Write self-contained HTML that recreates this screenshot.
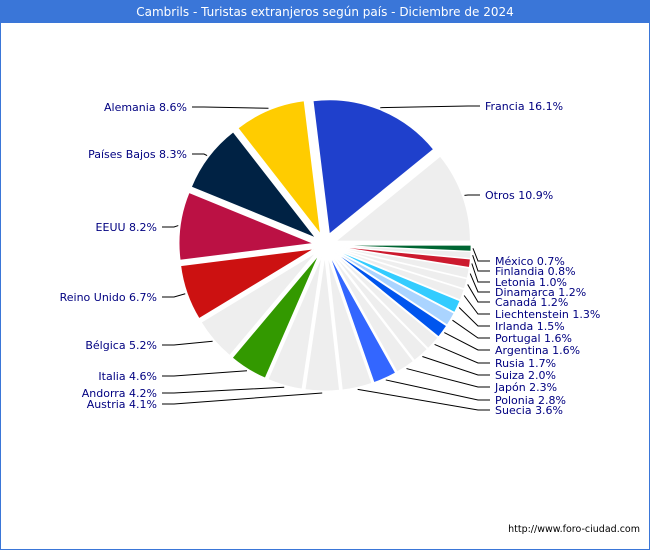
<!DOCTYPE html>
<html><head><meta charset="utf-8"><style>
body{margin:0;width:650px;height:550px;overflow:hidden;background:#fff;font-family:"DejaVu Sans","Liberation Sans",sans-serif}
</style></head><body>
<svg width="650" height="550" xmlns="http://www.w3.org/2000/svg" font-family="DejaVu Sans, Liberation Sans, sans-serif">
<rect x="0" y="0" width="650" height="550" fill="#fff"/>
<rect x="0.5" y="0.5" width="649" height="549" fill="none" stroke="#3a76d8"/>
<rect x="0" y="0" width="650" height="23" fill="#3a76d8"/>
<text x="325" y="16" text-anchor="middle" fill="#fff" font-size="12">Cambrils - Turistas extranjeros según país - Diciembre de 2024</text>
<g id="pie"></g>
<text x="640" y="532" text-anchor="end" font-size="9.5" fill="#000">http://www.foro-ciudad.com</text>
</svg>
<script>
const categories=["Francia","Otros","México","Finlandia","Letonia","Dinamarca","Canadá","Liechtenstein","Irlanda","Portugal","Argentina","Rusia","Suiza","Japón","Polonia","Suecia","Austria","Andorra","Italia","Bélgica","Reino Unido","EEUU","Países Bajos","Alemania"];
const values=[16.1,10.9,0.7,0.8,1.0,1.2,1.2,1.3,1.5,1.6,1.6,1.7,2.0,2.3,2.8,3.6,4.1,4.2,4.6,5.2,6.7,8.2,8.3,8.6];
const colors=["#1f40cc","#eeeeee","#006633","#eeeeee","#cc1a2e","#eeeeee","#eeeeee","#eeeeee","#33ccff","#aad4ff","#0055ee","#eeeeee","#eeeeee","#eeeeee","#3366ff","#eeeeee","#eeeeee","#eeeeee","#339900","#eeeeee","#cc1111","#bb1144","#002244","#ffcc00"];
const labelPos=[[485,106],[485,195],[495,261],[495,271],[495,282],[495,292],[495,302],[495,314],[495,326],[495,338],[495,350],[495,363],[495,375],[495,387],[495,400],[495,410],[157,404],[157,393],[157,376],[157,345],[157,297],[157,227],[187,154],[187,107]];
const cx=325,cy=245,R=134,EX=12,start=-97;
const g=document.getElementById('pie');
const NS="http://www.w3.org/2000/svg";
const total=values.reduce((a,b)=>a+b,0);
let acc=0;
values.forEach((v,i)=>{
  const a0=(start+acc/total*360)*Math.PI/180;
  acc+=v;
  const a1=(start+acc/total*360)*Math.PI/180;
  const am=(a0+a1)/2;
  const ox=cx+EX*Math.cos(am),oy=cy+EX*Math.sin(am);
  const large=(a1-a0)>Math.PI?1:0;
  const p=document.createElementNS(NS,'path');
  p.setAttribute('d',`M${ox},${oy}L${ox+R*Math.cos(a0)},${oy+R*Math.sin(a0)}A${R},${R} 0 ${large} 1 ${ox+R*Math.cos(a1)},${oy+R*Math.sin(a1)}Z`);
  p.setAttribute('fill',colors[i]);
  p.setAttribute('stroke','#fff');p.setAttribute('stroke-width','0.8');
  
  
  g.appendChild(p);
  const [lx,ly]=labelPos[i];
  const right=lx>cx;
  const sx=ox+(R+2)*Math.cos(am),sy=oy+(R+2)*Math.sin(am);
  const ex=right?lx-5:lx+5;
  const mx=right?ex-12:ex+12;
  const l=document.createElementNS(NS,'polyline');
  l.setAttribute('points',`${sx},${sy} ${mx},${ly} ${ex},${ly}`);
  l.setAttribute('fill','none');l.setAttribute('stroke','#000');l.setAttribute('stroke-width','1');
  
  
  g.appendChild(l);
  const t=document.createElementNS(NS,'text');
  t.setAttribute('x',lx);t.setAttribute('y',ly+4);
  t.setAttribute('text-anchor',right?'start':'end');
  t.setAttribute('font-size','11');t.setAttribute('fill','#000080');
  t.textContent=categories[i]+' '+v.toFixed(1)+'%';
  
  
  g.appendChild(t);
});
</script>
</body></html>
